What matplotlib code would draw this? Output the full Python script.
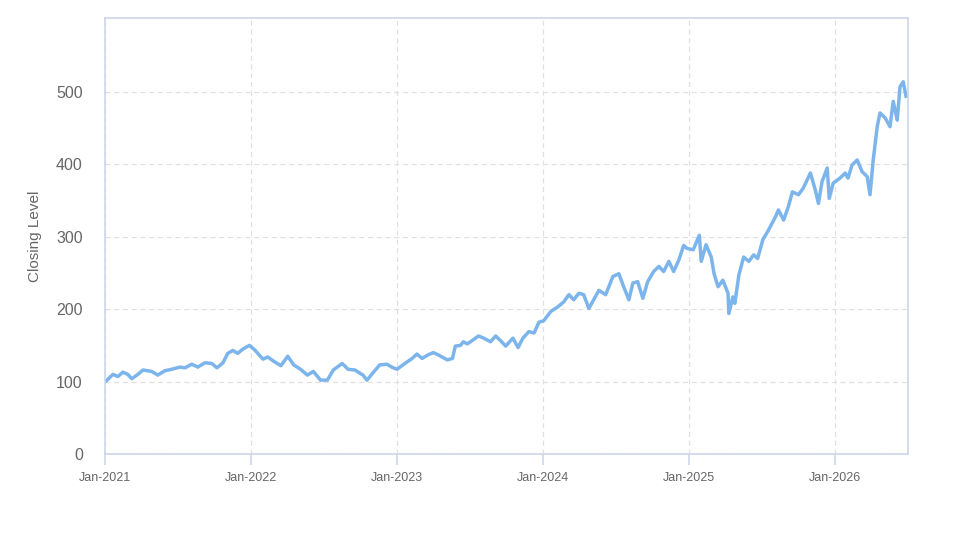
import matplotlib
matplotlib.use("Agg")
import matplotlib.pyplot as plt
import matplotlib.dates as mdates
import pandas as pd

plt.rcParams['font.family'] = ['Liberation Sans', 'DejaVu Sans']

# Closing level (roughly every two weeks)
dates = [
    "2021-01-01", "2021-01-06", "2021-01-21", "2021-02-02", "2021-02-15", "2021-02-27",
    "2021-03-09", "2021-03-22", "2021-04-06", "2021-04-28", "2021-05-13", "2021-05-31",
    "2021-06-17", "2021-07-07", "2021-07-20", "2021-08-06", "2021-08-21", "2021-09-08",
    "2021-09-25", "2021-10-08", "2021-10-23", "2021-11-04", "2021-11-17", "2021-11-29",
    "2021-12-12", "2021-12-28",
    "2022-01-10", "2022-01-31", "2022-02-12", "2022-02-27", "2022-03-17", "2022-04-03",
    "2022-04-18", "2022-05-05", "2022-05-22", "2022-06-06", "2022-06-24", "2022-07-11",
    "2022-07-26", "2022-08-17", "2022-09-01", "2022-09-18", "2022-10-08", "2022-10-18",
    "2022-11-02", "2022-11-19", "2022-12-07", "2022-12-19",
    "2023-01-01", "2023-01-21", "2023-02-08", "2023-02-20", "2023-03-05", "2023-03-20",
    "2023-04-02", "2023-04-14", "2023-05-07", "2023-05-20", "2023-05-27", "2023-06-09",
    "2023-06-16", "2023-06-26", "2023-07-09", "2023-07-24", "2023-08-06", "2023-08-23",
    "2023-09-05", "2023-09-18", "2023-09-30", "2023-10-18", "2023-10-31", "2023-11-12",
    "2023-11-27", "2023-12-10", "2023-12-22",
    "2024-01-03", "2024-01-21", "2024-02-07", "2024-02-22", "2024-03-06", "2024-03-18",
    "2024-03-31", "2024-04-12", "2024-04-25", "2024-05-07", "2024-05-20", "2024-06-06",
    "2024-06-24", "2024-07-09", "2024-07-21", "2024-08-03", "2024-08-13", "2024-08-25",
    "2024-09-07", "2024-09-19", "2024-10-04", "2024-10-17", "2024-10-29", "2024-11-11",
    "2024-11-23", "2024-12-06", "2024-12-18", "2024-12-26",
    "2025-01-11", "2025-01-26", "2025-01-31", "2025-02-12", "2025-02-25", "2025-03-04",
    "2025-03-14", "2025-03-26", "2025-04-08", "2025-04-10", "2025-04-20", "2025-04-25",
    "2025-05-05", "2025-05-17", "2025-05-30", "2025-06-11", "2025-06-21", "2025-07-04",
    "2025-07-18", "2025-08-05", "2025-08-12", "2025-08-25", "2025-09-06", "2025-09-16",
    "2025-10-01", "2025-10-13", "2025-10-31", "2025-11-12", "2025-11-20", "2025-11-29",
    "2025-12-12", "2025-12-17", "2025-12-27",
    "2026-01-13", "2026-01-26", "2026-02-02", "2026-02-12", "2026-02-25", "2026-03-09",
    "2026-03-22", "2026-03-29", "2026-04-06", "2026-04-16", "2026-04-23", "2026-05-06",
    "2026-05-18", "2026-05-26", "2026-06-05", "2026-06-12", "2026-06-20", "2026-06-27",
]
closing = [
    100, 102, 110, 107, 113, 110,
    104, 109, 116, 114, 109, 115,
    117, 120, 119, 124, 120, 126,
    125, 119, 126, 139, 143, 139,
    145, 150,
    144, 131, 134, 128, 122, 135,
    123, 117, 109, 114, 102, 102,
    116, 125, 117, 116, 109, 102,
    112, 123, 124, 120,
    117, 125, 132, 138, 132, 137,
    140, 137, 130, 132, 149, 150,
    155, 152, 157, 163, 160, 155,
    163, 156, 149, 160, 147, 160,
    169, 167, 182,
    184, 197, 203, 210, 220, 213,
    222, 220, 201, 213, 226, 220,
    245, 249, 231, 213, 236, 238,
    215, 238, 252, 259, 252, 266,
    252, 268, 288, 284,
    282, 302, 266, 289, 272, 249,
    231, 240, 222, 194, 217, 208,
    247, 272, 266, 275, 270, 296,
    309, 328, 337, 323, 342, 362,
    358, 367, 388, 365, 346, 376,
    395, 353, 374,
    381, 388, 381, 399, 406, 390,
    383, 358, 406, 452, 471, 464,
    452, 487, 461, 507, 514, 494,
]

x_start = "2021-01-01"
x_end = "2026-07-02"
year_ticks = ["2021-01-01", "2022-01-01", "2023-01-01", "2024-01-01", "2025-01-01", "2026-01-01"]
y_ticks = [0, 100, 200, 300, 400, 500]

border = "#ccd6eb"
grid = "#e0e0e0"
text = "#666666"

fig = plt.figure(figsize=(9.73, 5.47), dpi=100)
ax = fig.add_axes([0.1079, 0.170, 0.8253, 0.797])

ax.plot(pd.to_datetime(dates), closing, color="#7cb5ec", lw=2.5, solid_joinstyle="round")

ax.set_xlim(pd.Timestamp(x_start), pd.Timestamp(x_end))
ax.set_ylim(0, 602)

ax.set_xticks(pd.to_datetime(year_ticks))
ax.xaxis.set_major_formatter(mdates.DateFormatter("%b-%Y"))
ax.set_yticks(y_ticks)

ax.grid(True, color=grid, linestyle=(0, (4, 3)), linewidth=0.9)
ax.set_axisbelow(True)

for side in ["left", "bottom", "top", "right"]:
    ax.spines[side].set_color(border)
    ax.spines[side].set_linewidth(1.2)

ax.tick_params(axis="x", colors=border, length=8, width=1.2, labelcolor=text, labelsize=9, pad=5)
ax.tick_params(axis="y", length=0, labelcolor=text, labelsize=11.5, pad=16)

ax.set_ylabel("Closing Level", color=text, fontsize=11, labelpad=10)

fig.savefig("out.png", dpi=100)
